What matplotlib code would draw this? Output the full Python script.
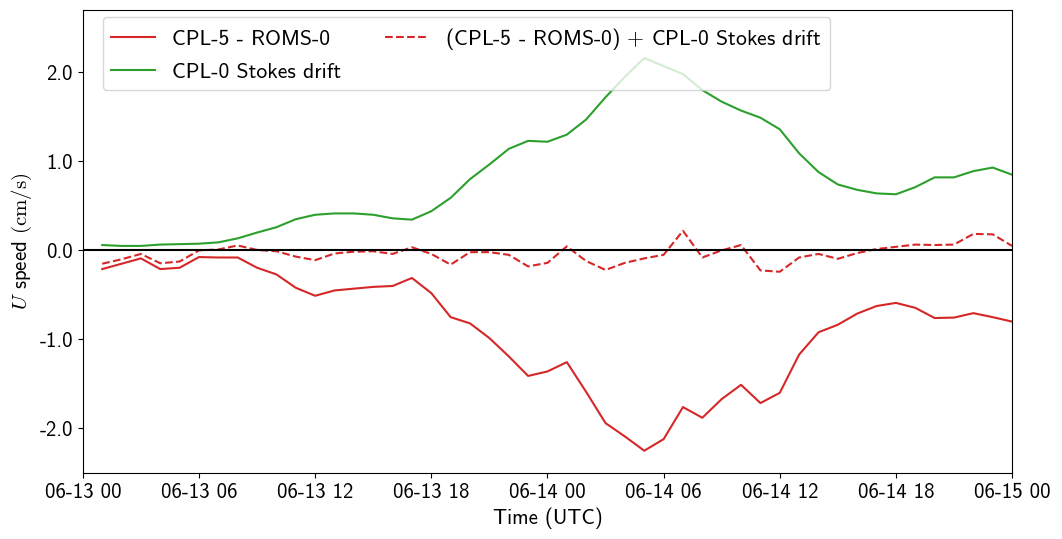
import matplotlib
matplotlib.use("Agg")
import matplotlib.pyplot as plt
import matplotlib.dates as mdates
from matplotlib.ticker import FormatStrFormatter
import numpy as np
import pandas as pd

# hourly output, 06-13 01 .. 06-15 00
times = pd.date_range("2021-06-13 01:00", periods=48, freq="h")

# CPL-5 minus ROMS-0, U component (cm/s)
cpl5_minus_roms0 = [-0.21, -0.15, -0.09, -0.21, -0.195, -0.075, -0.08, -0.08,
                    -0.195, -0.27, -0.42, -0.51, -0.45, -0.43, -0.41, -0.40,
                    -0.31, -0.48, -0.75, -0.82, -0.985, -1.19, -1.41, -1.36,
                    -1.255, -1.59, -1.94, -2.09, -2.25, -2.12, -1.76, -1.88,
                    -1.67, -1.51, -1.715, -1.60, -1.17, -0.92, -0.835, -0.71,
                    -0.625, -0.59, -0.645, -0.76, -0.755, -0.705, -0.75, -0.80]

# CPL-0 Stokes drift, U component (cm/s)
cpl0_stokes = [0.06, 0.05, 0.05, 0.065, 0.07, 0.075, 0.09, 0.135,
               0.20, 0.26, 0.35, 0.40, 0.415, 0.415, 0.40, 0.36,
               0.345, 0.44, 0.59, 0.80, 0.965, 1.14, 1.23, 1.22,
               1.30, 1.47, 1.72, 1.95, 2.16, 2.07, 1.98, 1.80,
               1.67, 1.57, 1.49, 1.36, 1.09, 0.88, 0.74, 0.68,
               0.64, 0.63, 0.71, 0.82, 0.82, 0.89, 0.93, 0.85]

yticks = [-2.0, -1.0, 0.0, 1.0, 2.0]

diff = np.array(cpl5_minus_roms0)
stokes = np.array(cpl0_stokes)

plt.rcParams["font.family"] = ["cmss10", "DejaVu Sans"]
plt.rcParams["mathtext.fontset"] = "cm"
plt.rcParams["axes.unicode_minus"] = False
plt.rcParams["font.size"] = 15

fig = plt.figure(figsize=(10.62, 5.39), dpi=100)
ax = fig.add_axes([0.078, 0.1225, 0.875, 0.859])

ax.plot(times, diff, color="tab:red", lw=1.5, label="CPL-5 - ROMS-0")
ax.plot(times, stokes, color="tab:green", lw=1.5, label="CPL-0 Stokes drift")
ax.plot(times, diff + stokes, color="tab:red", lw=1.5, ls="--",
        label="(CPL-5 - ROMS-0) $+$ CPL-0 Stokes drift")
ax.axhline(0, color="k", lw=1.5)

ax.set_xlim(pd.Timestamp("2021-06-13 00:00"), pd.Timestamp("2021-06-15 00:00"))
ax.set_ylim(-2.5, 2.7)
ax.set_yticks(yticks)
ax.yaxis.set_major_formatter(FormatStrFormatter("%.1f"))
ax.xaxis.set_major_locator(mdates.HourLocator(byhour=[0, 6, 12, 18]))
ax.xaxis.set_major_formatter(mdates.DateFormatter("%m-%d %H"))

ax.set_xlabel("Time (UTC)")
ax.set_ylabel(r"$U$ speed $\mathrm{(cm/s)}$")
ax.legend(loc="upper left", ncol=2, fontsize=15.6, borderaxespad=0,
          labelspacing=0.64, bbox_to_anchor=(0.0215, 0.985))

fig.savefig("out.png", dpi=100)
